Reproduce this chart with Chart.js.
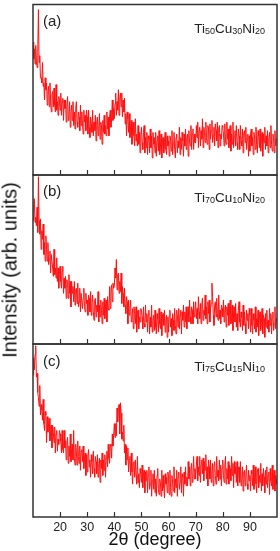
<!DOCTYPE html>
<html><head><meta charset="utf-8">
<script src="https://cdn.jsdelivr.net/npm/chart.js@4.4.1/dist/chart.umd.min.js"></script>
<style>
html,body{margin:0;padding:0;background:#fff;width:280px;height:551px;overflow:hidden;font-family:"Liberation Sans",Arial,sans-serif;}
canvas{position:absolute;left:0;display:block;}
.lbl{position:absolute;font-size:15px;color:#222;line-height:15px;white-space:nowrap;}
.form{position:absolute;font-size:13.5px;color:#222;line-height:14px;white-space:nowrap;}
.form sub{font-size:9px;vertical-align:-1px;line-height:0;}
.ytitle{position:absolute;left:10px;top:270px;transform:translate(-50%,-50%) rotate(-90deg);font-size:20px;color:#111;white-space:nowrap;}
</style></head>
<body>
<canvas id="ca" width="280" height="176" style="top:0px"></canvas>
<canvas id="cb" width="280" height="175" style="top:170px"></canvas>
<canvas id="cc" width="280" height="212" style="top:339px"></canvas>
<div class="lbl" style="left:43px;top:13px">(a)</div>
<div class="lbl" style="left:43px;top:183px">(b)</div>
<div class="lbl" style="left:43px;top:353px">(c)</div>
<div class="form" style="right:15px;top:22px">Ti<sub>50</sub>Cu<sub>30</sub>Ni<sub>20</sub></div>
<div class="form" style="right:15px;top:191px">Ti<sub>70</sub>Cu<sub>10</sub>Ni<sub>20</sub></div>
<div class="form" style="right:15px;top:360px">Ti<sub>75</sub>Cu<sub>15</sub>Ni<sub>10</sub></div>
<div class="ytitle">Intensity (arb. units)</div>
<script>
// 2θ sampling grid (degrees)
const angleStart = 10, angleStep = 0.25, angleCount = 361;
const tickValues = [20, 30, 40, 50, 60, 70, 80, 90];
const xTitle = '2θ (degree)';

// intensities (arb. units, 0-100 of panel height), one value per 0.25°, one row per 10°
const ti50cu30ni20 = [
 78,68,74,65, 76,67,63,72, 97,66,70,57, 57,54,66,52, 54,44,57,50, 54,41,49,52, 40,54,43,37, 47,49,40,51, 41,37,53,38, 43,35,46,44,
 38,48,35,43, 45,32,44,39, 44,31,41,46, 32,35,43,28, 37,41,32,43, 29,37,27,39, 43,31,28,37, 34,26,41,29, 37,30,24,38, 31,35,26,38,
 34,24,38,28, 22,34,30,25, 38,23,31,26, 35,20,31,34, 23,27,36,21, 31,29,18,32, 25,35,24,29, 23,37,27,34, 23,34,38,28, 33,44,32,39,
 33,42,48,35, 43,38,50,35, 45,48,40,48, 34,44,37,45, 30,36,23,37, 33,25,36,22, 27,32,18,29, 31,23,17,33, 20,24,17,29, 18,25,13,23,
 28,19,15,25, 29,13,22,16, 25,12,23,21, 13,27,16,23, 10,25,18,22, 13,25,11,20, 23,14,26,12, 16,24,10,21, 22,13,19,25, 15,12,23,17,
 20,11,23,21, 14,26,12,19, 25,15,10,22, 24,13,20,16, 28,12,22,15, 25,20,11,24, 17,27,15,22, 24,11,26,19, 17,29,15,24, 27,15,24,19,
 19,29,22,31, 16,26,28,17, 26,21,33,16, 28,25,19,31, 22,18,29,27, 15,30,21,26, 32,19,23,28, 17,30,26,20, 31,16,27,29, 17,24,21,29,
 28,24,17,30, 20,18,31,21, 27,16,26,29, 14,24,18,31, 16,23,26,17, 29,19,15,27, 23,15,29,20, 17,27,13,24, 26,19,28,15, 21,24,11,23,
 14,24,27,17, 22,12,25,21, 15,28,18,13, 26,23,16,27, 14,22,25,11, 24,19,28,15, 23,17,26,13, 21,25,16,29, 18,14,24,22, 13,26,17,21,
 21];
const ti70cu10ni20 = [
 73,81,86,72, 75,70,81,66, 99,73,65,74, 56,67,62,71, 53,60,49,64, 56,49,60,47, 50,55,42,53, 53,45,40,56, 41,45,39,51, 37,45,33,43,
 46,37,33,43, 46,30,39,33, 40,27,38,36, 27,41,30,37, 22,37,30,34, 25,37,23,32, 33,24,36,22, 25,33,19,30, 30,21,27,33, 22,19,30,24,
 26,17,29,27, 19,31,17,24, 29,19,14,26, 27,16,23,19, 31,13,23,16, 26,20,12,25, 17,27,15,22, 26,13,28,21, 20,34,21,32, 35,25,36,33,
 34,45,39,50, 32,41,42,30, 37,31,42,24, 34,30,22,33, 23,18,28,25, 12,26,17,21, 26,13,16,21, 9,22,18,12, 22,7,18,20, 9,16,13,21,
 20,16,9,22, 12,10,23,13, 18,7,17,20, 6,16,10,23, 7,14,17,8, 20,10,6,18, 15,7,21,12, 9,19,5,16, 18,11,20,7, 14,17,4,16,
 7,17,20,10, 15,5,18,14, 8,21,11,6, 20,17,10,21, 9,17,20,6, 19,14,23,10, 19,13,22,9, 18,22,13,26, 16,12,22,20, 12,25,16,20,
 25,15,21,12, 28,19,15,24, 12,23,27,14, 20,17,29,15, 22,12,25,18, 26,13,21,24, 36,28,17,11, 23,25,16,27, 18,14,29,15, 20,12,23,21,
 16,26,13,21, 23,10,22,17, 24,11,21,26, 12,15,23,8, 18,22,13,24, 10,18,8,20, 25,13,10,19, 16,8,23,11, 19,12,6,20, 14,18,9,21,
 17,7,21,11, 6,18,14,9, 22,7,15,10, 20,5,16,19, 8,12,21,6, 17,15,4,18, 10,20,9,14, 7,21,11,18, 6,16,19,8, 12,22,9,15,
 13];
const ti75cu15ni10 = [
 82,92,85,94, 99,81,83,72, 69,64,76,59, 65,62,56,68, 54,50,61,59, 43,58,49,54, 57,44,48,53, 40,53,49,43, 52,37,48,50, 38,45,42,50,
 48,44,37,50, 39,37,50,40, 44,33,43,46, 31,41,35,48, 32,39,42,33, 50,34,30,42, 38,30,44,35, 31,41,27,38, 39,32,41,28, 34,37,24,36,
 26,36,39,29, 33,23,36,32, 25,38,28,23, 35,32,25,36, 23,31,34,20, 33,28,37,24, 33,27,36,23, 34,38,29,42, 34,31,42,41, 34,48,41,47,
 54,46,54,47, 63,55,64,65, 48,66,60,45, 49,44,53,37, 42,30,41,33, 40,26,33,35, 24,37,26,19, 31,32,23,33, 24,19,35,20, 25,17,28,25,
 20,30,17,25, 27,14,26,21, 27,14,24,29, 16,19,27,12, 21,25,16,27, 14,22,12,24, 28,16,13,22, 20,12,27,15, 24,17,11,25, 19,23,14,26,
 23,13,27,17, 12,24,20,15, 29,14,22,17, 27,12,23,26, 16,20,29,14, 25,23,12,26, 19,29,18,23, 18,32,22,29, 18,28,31,20, 25,35,22,28,
 22,30,35,21, 29,24,35,20, 30,33,25,34, 21,32,27,36, 22,29,18,33, 29,22,33,20, 26,31,18,29, 32,24,19,35, 23,27,21,33, 22,30,18,28,
 33,24,20,30, 35,19,28,22, 32,19,30,28, 21,35,24,31, 17,32,25,29, 20,32,18,27, 29,20,32,18, 21,29,15,26, 27,18,24,30, 19,16,27,21,
 24,15,27,25, 18,30,16,23, 29,19,14,26, 28,17,24,20, 31,15,25,18, 28,23,14,27, 19,29,17,24, 26,13,28,21, 18,30,16,25, 27,15,24,19,
 22];

const angles = [];
for (let i = 0; i < angleCount; i++) angles.push(angleStart + angleStep * i);

const framePlugin = {
  id: 'frame',
  afterDraw(chart) {
    const {ctx, chartArea: a} = chart;
    const xs = chart.scales.x;
    ctx.save();
    ctx.strokeStyle = '#333';
    ctx.lineWidth = 1.2;
    tickValues.forEach(v => {
      const px = Math.round(xs.getPixelForValue(v)) + 0.5;
      ctx.beginPath();
      ctx.moveTo(px, a.bottom);
      ctx.lineTo(px, a.bottom - 5);
      ctx.stroke();
    });
    ctx.lineWidth = 1.5;
    ctx.strokeRect(a.left, a.top, a.right - a.left, a.bottom - a.top);
    ctx.restore();
  }
};

function makeChart(id, values, pad, showAxis) {
  const xScale = {
    type: 'linear', min: 10, max: 100, display: showAxis,
    afterBuildTicks: s => { s.ticks = tickValues.map(v => ({value: v})); },
    grid: {display: false, drawTicks: false},
    border: {display: false},
    ticks: {font: {family: 'Liberation Sans', size: 12.5}, color: '#222', padding: 3, maxRotation: 0, autoSkip: false},
    title: {display: true, text: xTitle, font: {family: 'Liberation Sans', size: 18}, color: '#111', padding: {top: 0, bottom: 0}}
  };
  if (showAxis) xScale.afterFit = s => { s.height = 34; };
  return new Chart(document.getElementById(id), {
    type: 'line',
    data: {datasets: [{
      data: angles.map((a, i) => ({x: a, y: values[i]})),
      borderColor: '#ff1010', borderWidth: 1, pointRadius: 0, tension: 0, fill: false
    }]},
    options: {
      responsive: false, animation: false,
      layout: {padding: pad},
      plugins: {legend: {display: false}, tooltip: {enabled: false}},
      scales: {
        x: xScale,
        y: {min: 0, max: 100, display: false}
      }
    },
    plugins: [framePlugin]
  });
}

makeChart('ca', ti50cu30ni20, {left: 33, right: 3, top: 4.5, bottom: 1}, false);
makeChart('cb', ti70cu10ni20, {left: 33, right: 3, top: 5, bottom: 1}, false);
makeChart('cc', ti75cu15ni10, {left: 33, right: 3, top: 5, bottom: 0}, true);
</script>
</body></html>
